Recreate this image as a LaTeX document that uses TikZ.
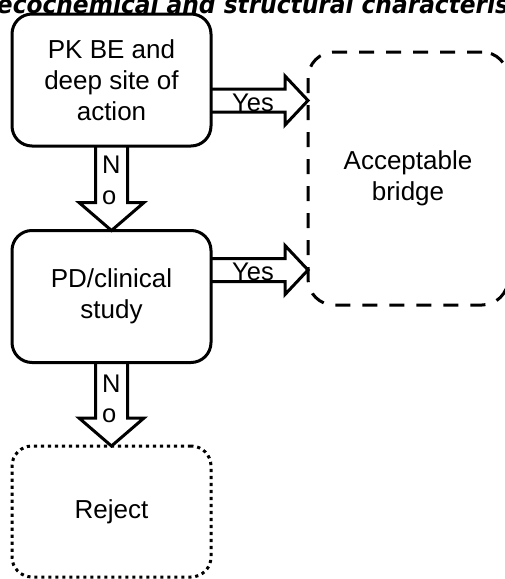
\documentclass[tikz,border=0pt]{standalone}
\usepackage{fontspec}
\setmainfont{Liberation Sans}
\newfontfamily\titlefont{DejaVu Sans}
\usetikzlibrary{calc}
\begin{document}
\begin{tikzpicture}[x=1pt,y=-1pt,
  box/.style={draw, line width=3pt, rounded corners=20pt, minimum width=199pt,
    minimum height=132pt, inner sep=0pt, outer sep=0pt, align=center,
    font=\fontsize{26}{31}\selectfont},
  solidbox/.style={box},
  dashbox/.style={box, dash pattern=on 15pt off 12pt, rounded corners=26pt},
  dotbox/.style={box, dash pattern=on 3.2pt off 3.8pt},
  lbl/.style={inner sep=0pt, font=\fontsize{25.5}{30.5}\selectfont},
  arrowbody/.style={draw, line width=3pt, line join=miter},
  % horizontal block arrow: shaft half-width 11.5, head half-width 24.5, head length 23
  yesarrow/.style={arrowbody, to path={
    ($(\tikztostart)+(0,-11.5)$) -- ($(\tikztotarget)+(-23,-11.5)$)
    -- ($(\tikztotarget)+(-23,-24.5)$) -- (\tikztotarget)
    -- ($(\tikztotarget)+(-23,24.5)$) -- ($(\tikztotarget)+(-23,11.5)$)
    -- ($(\tikztostart)+(0,11.5)$)}},
  % vertical block arrow: shaft half-width 16, head half-width 32.5, head length 28
  noarrow/.style={arrowbody, to path={
    ($(\tikztostart)+(-16,0)$) -- ($(\tikztotarget)+(-16,-28)$)
    -- ($(\tikztotarget)+(-32.5,-28)$) -- (\tikztotarget)
    -- ($(\tikztotarget)+(32.5,-28)$) -- ($(\tikztotarget)+(16,-28)$)
    -- ($(\tikztostart)+(16,0)$)}},
]
\useasboundingbox (0,0) rectangle (505,579);
\clip (0,0) rectangle (505,579);

% heading, cut by the top edge
\node[anchor=base, inner sep=0pt] (title) at (253,13.5)
  {\resizebox{512pt}{19pt}{\titlefont\bfseries\itshape ecochemical and structural characteris}};

% decision boxes
\node[solidbox] (pk) at (111.5,80) {PK BE and\\deep site of\\action};
\node[solidbox] (pd) at (111.5,296.5) {PD/clinical\\study};
\node[dotbox, minimum height=131pt] (rej) at (111.5,511.5) {Reject};
\node[dashbox, minimum width=200pt, minimum height=253pt] (acc) at (408,178.5)
  {Acceptable\\bridge};

% "Yes" arrows into the accepted outcome
\coordinate (y1a) at (pk.east |- 0,100.5);
\coordinate (y1b) at (acc.west |- 0,100.5);
\draw[yesarrow] (y1a) to (y1b);
\node[lbl, anchor=base] (yes1) at ($(y1a)+(42,10.5)$) {Yes};

\coordinate (y2a) at (pd.east |- 0,270);
\coordinate (y2b) at (acc.west |- 0,270);
\draw[yesarrow] (y2a) to (y2b);
\node[lbl, anchor=base] (yes2) at ($(y2a)+(42,10.5)$) {Yes};

% "No" arrows down the chain
\draw[noarrow] (pk.south) to (pd.north);
\node[lbl, align=left, anchor=north west] (no1) at ($(pk.south)+(-9.5,10)$) {N\\o};

\draw[noarrow] (pd.south) to (rej.north);
\node[lbl, align=left, anchor=north west] (no2) at ($(pd.south)+(-9.5,12)$) {N\\o};
\end{tikzpicture}
\end{document}
